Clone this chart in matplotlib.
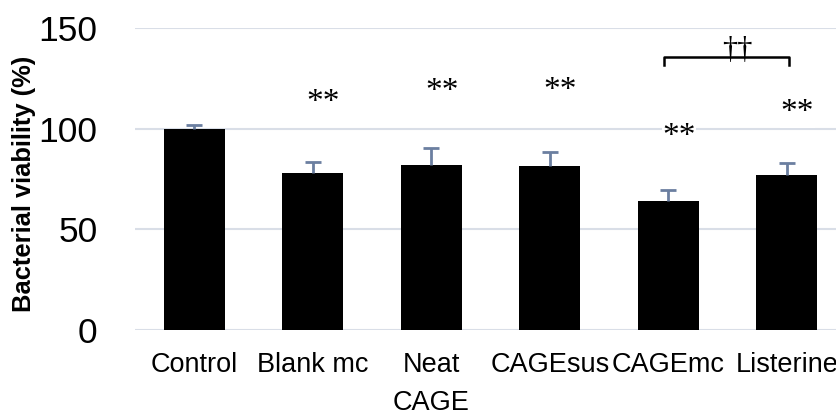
import numpy as np
import matplotlib
matplotlib.use("Agg")
import matplotlib.pyplot as plt

categories = ["Control", "Blank mc", "Neat\nCAGE", "CAGEsus", "CAGEmc", "Listerine"]
viability = [100, 78, 82, 81.5, 64, 77]
err_up = [2, 5.3, 8.4, 7, 5.5, 6]
star_labels = ["", "**", "**", "**", "**", "**"]
star_heights = [0, 113, 118.5, 119, 96, 108]
yticks = [0, 50, 100, 150]

plt.rcParams["font.family"] = ["Liberation Sans", "DejaVu Sans"]

fig = plt.figure(figsize=(8.37, 4.18), dpi=100)
ax = fig.add_axes([0.1613, 0.2105, 0.8495, 0.7225])

x = np.arange(len(categories))
grid_c = "#d9dee7"
for t in yticks:
    ax.axhline(t, color=grid_c, lw=1.5, zorder=0)

ax.bar(x, viability, width=0.515, color="black", zorder=2)

# upper error bars only (the lower half is hidden by the bar)
tops = np.array(viability) + np.array(err_up)
ax.vlines(x, viability, tops, color="#6b7fa0", lw=2, zorder=3)
ax.plot(x, tops, ls="none", marker="_", ms=12, mew=2, color="#6b7fa0", zorder=3)

# significance marks
for xi, s, h in zip(x, star_labels, star_heights):
    if s:
        ax.text(xi + 0.09, h, s, ha="center", va="center", fontsize=24,
                family="Liberation Serif", zorder=4,
                bbox=dict(facecolor="white", edgecolor="none", pad=0.5))

ax.plot([3.96, 3.96, 5.02, 5.02], [131.6, 135.8, 135.8, 131.6],
        color="black", lw=1.8, zorder=4)
ax.text(4.58, 138.7, "\u2020\u2020", ha="center", va="center", fontsize=22,
        family=["Liberation Serif", "DejaVu Serif"], zorder=5)

ax.set_xlim(-0.5, 5.5)
ax.set_ylim(0, 150)
ax.set_yticks(yticks)
ax.set_xticks(x)
ax.set_xticklabels(categories, fontsize=19.5, linespacing=1.6)
ax.tick_params(axis="y", labelsize=25.5, length=0, pad=27)
ax.tick_params(axis="x", length=0, pad=16)
for sp in ax.spines.values():
    sp.set_visible(False)

ax.set_ylabel("Bacterial viability (%)", fontsize=18.4, fontweight="bold")
ax.yaxis.set_label_coords(-0.139, 0.485)

fig.savefig("out.png", dpi=100)
